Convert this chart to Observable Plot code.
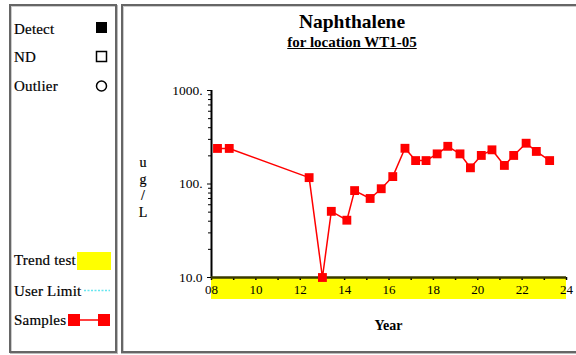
<!DOCTYPE html>
<html>
<head>
<meta charset="utf-8">
<script src="https://cdn.jsdelivr.net/npm/d3@7"></script>
<script src="https://cdn.jsdelivr.net/npm/@observablehq/plot@0.6"></script>
<style>
  html, body { margin: 0; padding: 0; background: #fff; overflow: hidden; }
  #wrap { position: relative; width: 576px; height: 355px; overflow: hidden; font-family: "Liberation Serif", "DejaVu Serif", serif; color: #000; }
  .box { position: absolute; box-sizing: border-box; border: 2px solid #666; background: #fff; }
  #legendBox { left: 9px; top: 4px; width: 108px; height: 349px; box-shadow: inset 1px 1px 0 #ccc, 1px 1px 0 #bbb; }
  .edge { position: absolute; background: #666; }
  .lt { position: absolute; font-size: 15px; left: 14px; line-height: 15px; letter-spacing: 0.2px; -webkit-text-stroke: 0.2px #000; }
  #title { position: absolute; left: 121px; width: 462px; top: 11px; text-align: center; font-weight: bold; font-size: 19.5px; }
  #subtitle { position: absolute; left: 121px; width: 462px; top: 34px; text-align: center; font-weight: bold; font-size: 15px; }
  #subtitle span { text-decoration: underline; }
  #band { position: absolute; background: #ffff00; }
  #chart { position: absolute; left: 0; top: 0; }
  #ylab { position: absolute; left: 136px; top: 155px; width: 14px; text-align: center; font-size: 14px; line-height: 16.5px; -webkit-text-stroke: 0.2px #000; }
  #xlab { position: absolute; top: 318px; font-size: 14px; font-weight: bold; }
</style>
</head>
<body>
<div id="wrap">
  <div class="box" id="legendBox"></div>
  <div class="edge" style="left:121px; top:4px; width:455px; height:2px;"></div>
  <div class="edge" style="left:121px; top:4px; width:2px; height:349px;"></div>
  <div class="edge" style="left:121px; top:351px; width:455px; height:2px;"></div>
  <div class="edge" style="left:123px; top:6px; width:453px; height:1px; background:#ccc;"></div>
  <div class="edge" style="left:123px; top:6px; width:1px; height:345px; background:#ccc;"></div>
  <div class="edge" style="left:121px; top:353px; width:455px; height:1px; background:#bbb;"></div>
  <div id="title">Naphthalene</div>
  <div id="subtitle"><span>for location WT1-05</span></div>
  <div id="band"></div>
  <div id="chart"></div>
  <div id="ylab">u<br>g<br>/<br>L</div>
  <div id="xlab">Year</div>
  <div class="lt" style="top:22px">Detect</div>
  <div class="lt" style="top:50px">ND</div>
  <div class="lt" style="top:79px">Outlier</div>
  <div class="lt" style="top:253px">Trend test</div>
  <div class="lt" style="top:284px">User Limit</div>
  <div class="lt" style="top:313px">Samples</div>
  <svg id="legendSym" width="120" height="355" style="position:absolute;left:0;top:0">
    <rect x="96" y="22" width="11" height="11" fill="#000"/>
    <rect x="96.5" y="51.5" width="10" height="10" fill="none" stroke="#000" stroke-width="1.5"/>
    <circle cx="101.5" cy="86" r="5" fill="none" stroke="#000" stroke-width="1.5"/>
    <rect x="77" y="252" width="34" height="18" fill="#ffff00"/>
    <line x1="84" y1="290.5" x2="110" y2="290.5" stroke="#66e6f0" stroke-width="1.5" stroke-dasharray="2,1.5"/>
    <line x1="74" y1="320" x2="104" y2="320" stroke="red" stroke-width="1.5"/>
    <rect x="68" y="314" width="12" height="12" fill="red"/>
    <rect x="98" y="314" width="12" height="12" fill="red"/>
  </svg>
</div>
<script>
// Sample dates (decimal years) and Naphthalene concentrations (ug/L)
const years = [2008.27, 2008.8, 2012.4, 2013.0, 2013.4, 2014.1, 2014.45, 2015.15, 2015.65, 2016.17,
               2016.72, 2017.2, 2017.67, 2018.17, 2018.65, 2019.2, 2019.67, 2020.16, 2020.64, 2021.2,
               2021.62, 2022.18, 2022.64, 2023.24];
const values = [240, 240, 117, 10, 51, 41, 85, 70, 89, 120,
                241, 178, 178, 210, 253, 210, 149, 202, 232, 158,
                202, 273, 223, 178];
const xDomain = [2008, 2024];
const yDomain = [10, 1000];
const xMajorTicks = [2008, 2010, 2012, 2014, 2016, 2018, 2020, 2022, 2024];
const xAllTicks = d3.range(2008, 2025);
const yMajorTicks = [10, 100, 1000];
const yMajorLabels = ["10.0", "100.", "1000."];
const yMinorTicks = [20, 30, 40, 50, 60, 70, 80, 90, 200, 300, 400, 500, 600, 700, 800, 900];
const trendRange = [2008, 2024];

const data = years.map((y, i) => ({year: y, value: values[i]}));

const chart = Plot.plot({
  width: 576,
  height: 355,
  marginLeft: 211,
  marginRight: 10,
  marginTop: 90,
  marginBottom: 78,
  style: {background: "transparent", fontFamily: "'Liberation Serif', serif", fontSize: "12px", color: "#000"},
  x: {domain: xDomain, label: null},
  y: {type: "log", domain: yDomain, label: null},
  marks: [
    Plot.axisX({ticks: xAllTicks, tickSize: 3, tickFormat: () => "", strokeWidth: 1.5, label: null}),
    Plot.axisX({ticks: xMajorTicks, tickSize: 0, tickPadding: 7, fontSize: 13, label: null,
                tickFormat: d => String(d % 100).padStart(2, "0")}),
    Plot.axisY({ticks: yMinorTicks, tickSize: 3, tickFormat: () => "", strokeWidth: 1, label: null}),
    Plot.axisY({ticks: yMajorTicks, tickSize: 4, tickPadding: 5, fontSize: 13.5, label: null,
                tickFormat: d => yMajorLabels[yMajorTicks.indexOf(d)]}),
    Plot.ruleX([xDomain[0]], {stroke: "#000", strokeWidth: 2}),
    Plot.ruleY([yDomain[0]], {stroke: "#3a3a00", strokeWidth: 2.5}),
    Plot.line(data, {x: "year", y: "value", stroke: "red", strokeWidth: 1.5}),
    Plot.dot(data, {x: "year", y: "value", symbol: "square", fill: "red", r: 5})
  ]
});
document.getElementById("chart").appendChild(chart);

// Position trend-test band and axis title from the chart's scales
const xs = chart.scale("x"), ys = chart.scale("y");
const band = document.getElementById("band");
const bx1 = xs.apply(trendRange[0]), bx2 = xs.apply(trendRange[1]);
const by = ys.apply(yDomain[0]);
band.style.left = bx1 + "px";
band.style.width = (bx2 - bx1) + "px";
band.style.top = by + "px";
band.style.height = "22px";
const xlab = document.getElementById("xlab");
xlab.style.left = ((bx1 + bx2) / 2 - 14) + "px";
</script>
</body>
</html>
